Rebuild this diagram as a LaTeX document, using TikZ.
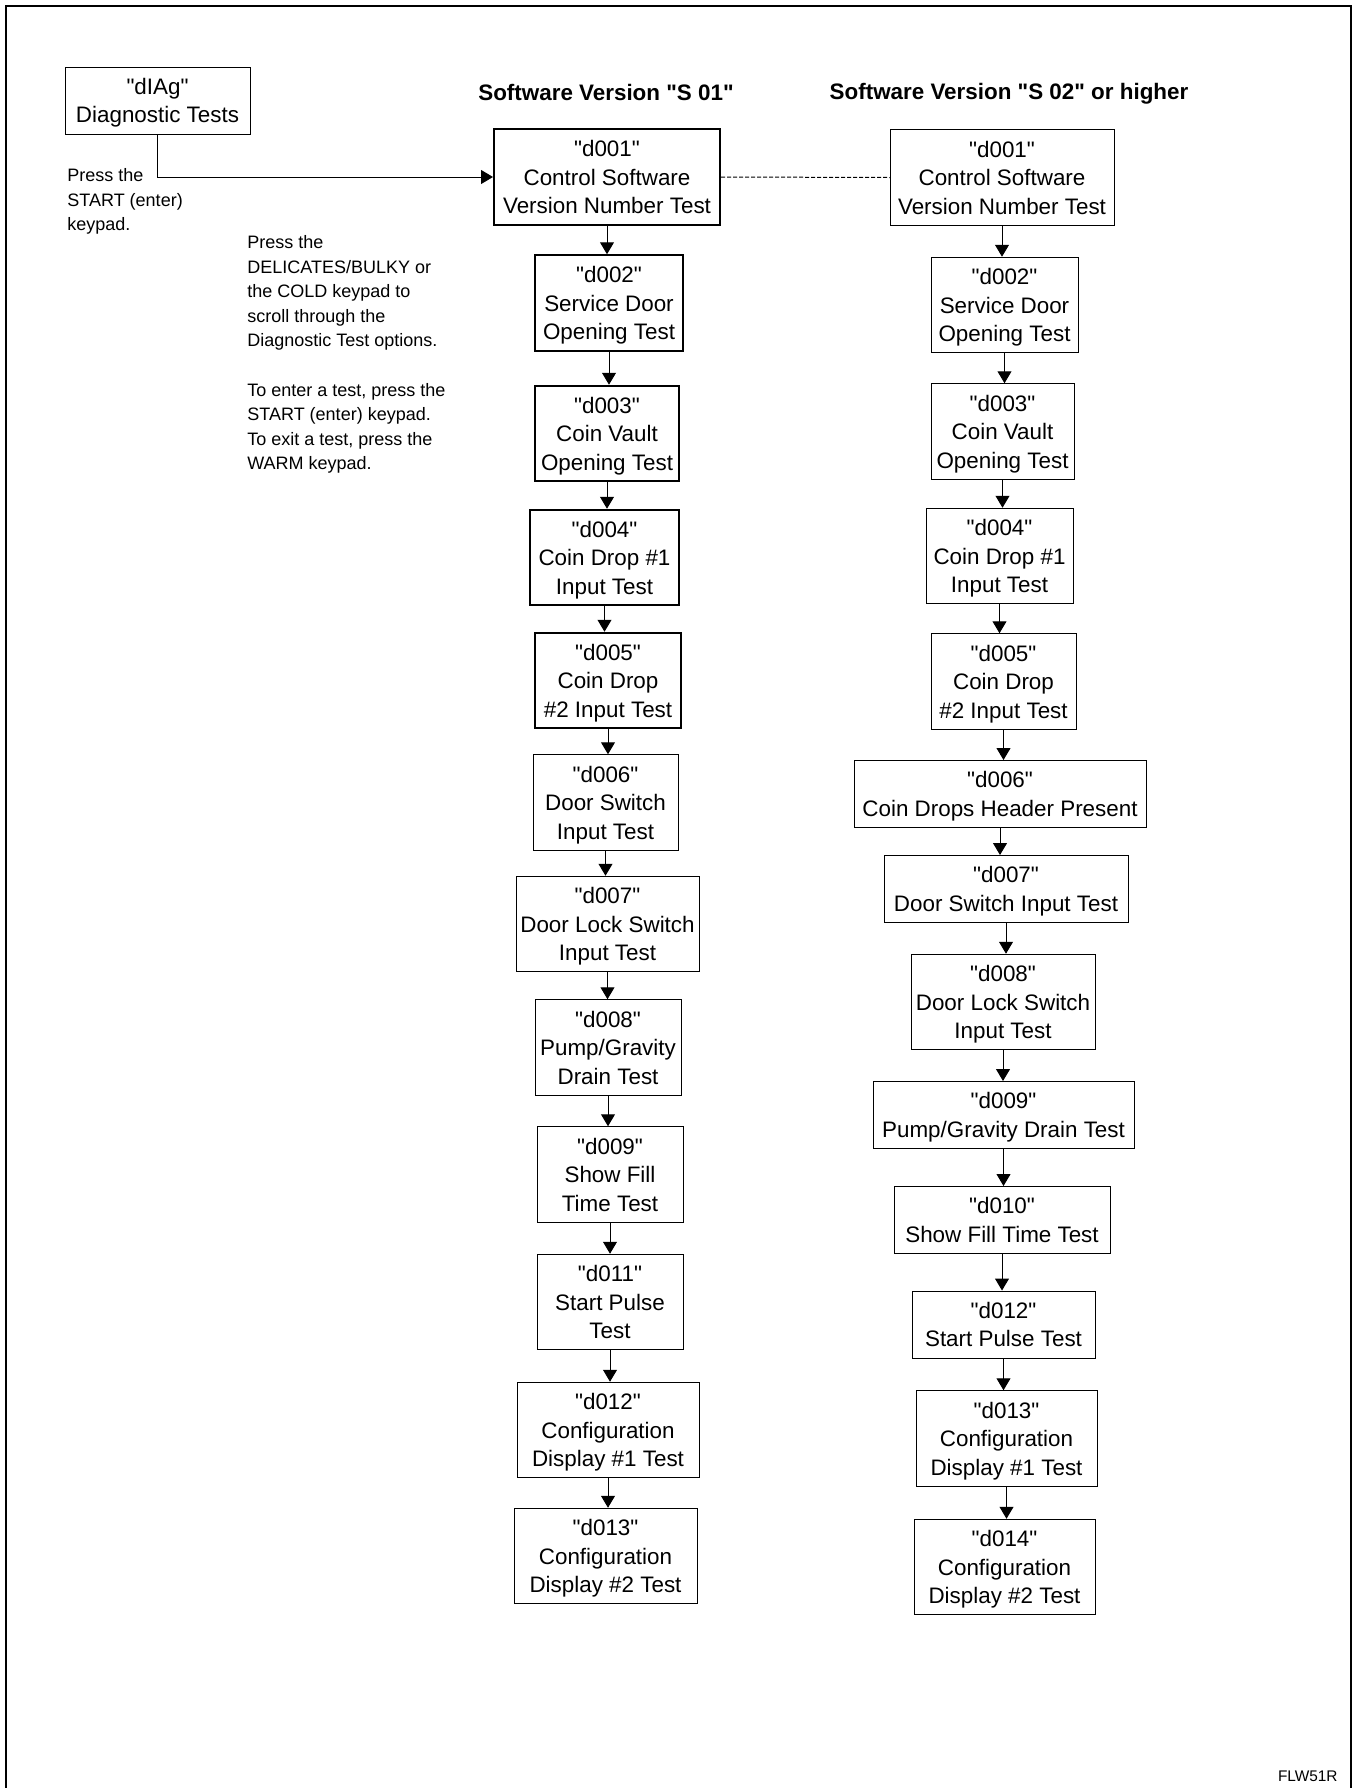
\documentclass[tikz,border=0pt]{standalone}
\usepackage{fontspec}
\setmainfont{Liberation Sans}[Ligatures=TeXOff]
\usetikzlibrary{arrows.meta, positioning}

\tikzset{
  testbox/.style={draw, line width=0.5pt, align=center, inner sep=2pt, text depth=0pt, font=\fontsize{11.2}{14.2}\selectfont},
  heavy/.style={line width=1pt},
  threeline/.style={minimum height=47.75pt},
  twoline/.style={minimum height=33.5pt},
  flow/.style={line width=0.5pt, -{Triangle[length=6pt,width=7pt]}},
  note/.style={align=left, inner sep=0pt, anchor=north west, font=\fontsize{9}{12.3}\selectfont},
  heading/.style={font=\fontsize{11.2}{14}\selectfont\bfseries}
}

\begin{document}
\begin{tikzpicture}[x=0.5pt, y=-0.5pt]
  \useasboundingbox (0,0) rectangle (1355,1788);
  % frame, open at the bottom
  \draw[line width=1pt] (5.5,1788) -- (5.5,5.5) -- (1350.5,5.5) -- (1350.5,1788);

  % start
  \node[testbox, twoline, minimum width=92.5pt] (diag) at (157.5,100.5) {"dIAg"\\Diagnostic Tests};
  \node[note] (startnote) at (67,168) {Press the\\START (enter)\\keypad.};
  \node[note] (scrollnote) at (247,235) {Press the\\DELICATES/BULKY or\\the COLD keypad to\\scroll through the\\Diagnostic Test options.\\[12.3pt]To enter a test, press the\\START (enter) keypad.\\To exit a test, press the\\WARM keypad.};

  \node[heading] (headone) at (606,92) {Software Version "S 01"};
  \node[heading] (headtwo) at (1009,93.5) {Software Version "S 02" or higher};

  % software version S 01
  \node[testbox, heavy, threeline, minimum width=113pt] (v1d001) at (607,177) {"d001"\\Control Software\\Version Number Test};
  \node[testbox, heavy, threeline, minimum width=74pt] (v1d002) at (609,303) {"d002"\\Service Door\\Opening Test};
  \node[testbox, heavy, threeline, minimum width=72pt] (v1d003) at (607,433.5) {"d003"\\Coin Vault\\Opening Test};
  \node[testbox, heavy, threeline, minimum width=74.5pt] (v1d004) at (604.5,557.5) {"d004"\\Coin Drop \#1\\Input Test};
  \node[testbox, heavy, threeline, minimum width=73pt] (v1d005) at (608,680.5) {"d005"\\Coin Drop\\\#2 Input Test};
  \node[testbox, threeline, minimum width=72.5pt] (v1d006) at (605.5,802.5) {"d006"\\Door Switch\\Input Test};
  \node[testbox, threeline, minimum width=91.5pt] (v1d007) at (607.5,924) {"d007"\\Door Lock Switch\\Input Test};
  \node[testbox, threeline, minimum width=73pt] (v1d008) at (608,1047.5) {"d008"\\Pump/Gravity\\Drain Test};
  \node[testbox, threeline, minimum width=73pt] (v1d009) at (610,1174.5) {"d009"\\Show Fill\\Time Test};
  \node[testbox, threeline, minimum width=73pt] (v1d011) at (610,1302) {"d011"\\Start Pulse\\Test};
  \node[testbox, threeline, minimum width=91pt] (v1d012) at (608,1430) {"d012"\\Configuration\\Display \#1 Test};
  \node[testbox, threeline, minimum width=91.5pt] (v1d013) at (605.5,1556) {"d013"\\Configuration\\Display \#2 Test};

  % software version S 02 or higher
  \node[testbox, threeline, minimum width=112pt] (v2d001) at (1002,177.5) {"d001"\\Control Software\\Version Number Test};
  \node[testbox, threeline, minimum width=73.5pt] (v2d002) at (1004.5,305) {"d002"\\Service Door\\Opening Test};
  \node[testbox, threeline, minimum width=71.5pt] (v2d003) at (1002.5,431.5) {"d003"\\Coin Vault\\Opening Test};
  \node[testbox, threeline, minimum width=73.5pt] (v2d004) at (999.5,556) {"d004"\\Coin Drop \#1\\Input Test};
  \node[testbox, threeline, minimum width=72.5pt] (v2d005) at (1003.5,681.5) {"d005"\\Coin Drop\\\#2 Input Test};
  \node[testbox, twoline, minimum width=146pt] (v2d006) at (1000,794) {"d006"\\Coin Drops Header Present};
  \node[testbox, twoline, minimum width=122pt] (v2d007) at (1006,889) {"d007"\\Door Switch Input Test};
  \node[testbox, threeline, minimum width=92pt] (v2d008) at (1003,1002) {"d008"\\Door Lock Switch\\Input Test};
  \node[testbox, twoline, minimum width=130.5pt] (v2d009) at (1003.5,1115) {"d009"\\Pump/Gravity Drain Test};
  \node[testbox, twoline, minimum width=108pt] (v2d010) at (1002,1220) {"d010"\\Show Fill Time Test};
  \node[testbox, twoline, minimum width=91.5pt] (v2d012) at (1003.5,1324.5) {"d012"\\Start Pulse Test};
  \node[testbox, threeline, minimum width=90.5pt] (v2d013) at (1006.5,1438.5) {"d013"\\Configuration\\Display \#1 Test};
  \node[testbox, threeline, minimum width=90.5pt] (v2d014) at (1004.5,1567) {"d014"\\Configuration\\Display \#2 Test};

  \node[font=\fontsize{7.7}{9}\selectfont, anchor=base east, inner sep=0pt] (figcode) at (1338,1781) {FLW51R};

  % connectors
  \draw[flow] (diag.south) |- (v1d001.west);
  \draw[line width=0.5pt, dash pattern=on 2pt off 1pt] (v1d001.east) -- (v2d001.west);

  \draw[flow] (v1d001.south) -- (v1d001.south |- v1d002.north);
  \draw[flow] (v1d002.south) -- (v1d002.south |- v1d003.north);
  \draw[flow] (v1d003.south) -- (v1d003.south |- v1d004.north);
  \draw[flow] (v1d004.south) -- (v1d004.south |- v1d005.north);
  \draw[flow] (v1d005.south) -- (v1d005.south |- v1d006.north);
  \draw[flow] (v1d006.south) -- (v1d006.south |- v1d007.north);
  \draw[flow] (v1d007.south) -- (v1d007.south |- v1d008.north);
  \draw[flow] (v1d008.south) -- (v1d008.south |- v1d009.north);
  \draw[flow] (v1d009.south) -- (v1d009.south |- v1d011.north);
  \draw[flow] (v1d011.south) -- (v1d011.south |- v1d012.north);
  \draw[flow] (v1d012.south) -- (v1d012.south |- v1d013.north);

  \draw[flow] (v2d001.south) -- (v2d001.south |- v2d002.north);
  \draw[flow] (v2d002.south) -- (v2d002.south |- v2d003.north);
  \draw[flow] (v2d003.south) -- (v2d003.south |- v2d004.north);
  \draw[flow] (v2d004.south) -- (v2d004.south |- v2d005.north);
  \draw[flow] (v2d005.south) -- (v2d005.south |- v2d006.north);
  \draw[flow] (v2d006.south) -- (v2d006.south |- v2d007.north);
  \draw[flow] (v2d007.south) -- (v2d007.south |- v2d008.north);
  \draw[flow] (v2d008.south) -- (v2d008.south |- v2d009.north);
  \draw[flow] (v2d009.south) -- (v2d009.south |- v2d010.north);
  \draw[flow] (v2d010.south) -- (v2d010.south |- v2d012.north);
  \draw[flow] (v2d012.south) -- (v2d012.south |- v2d013.north);
  \draw[flow] (v2d013.south) -- (v2d013.south |- v2d014.north);
\end{tikzpicture}
\end{document}
